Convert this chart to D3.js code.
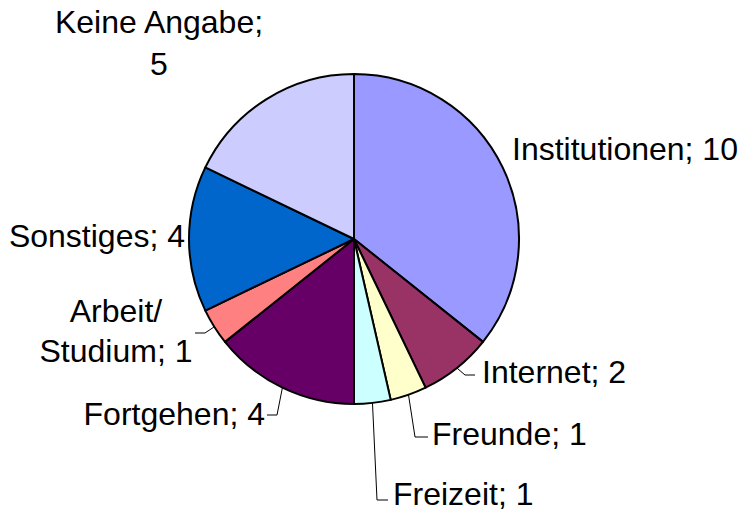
<!DOCTYPE html>
<html>
<head>
<meta charset="utf-8">
<script src="https://cdn.jsdelivr.net/npm/d3@7"></script>
<style>
  html, body { margin: 0; padding: 0; background: #fff; }
  svg { display: block; }
  .pie-label { font-family: "Liberation Sans", Arial, sans-serif; font-size: 32px; fill: #000; }
</style>
</head>
<body>
<svg id="chart" width="740" height="511"></svg>
<script>
// data
var categories = ['Institutionen', 'Internet', 'Freunde', 'Freizeit', 'Fortgehen', 'Arbeit/Studium', 'Sonstiges', 'Keine Angabe'];
var values = [10, 2, 1, 1, 4, 1, 4, 5];
var colors = ['#9999FF', '#993366', '#FFFFCC', '#CCFFFF', '#660066', '#FF8080', '#0066CC', '#CCCCFF'];

// label placement (Excel-style, hand positioned)
var labelLayout = {
  'Institutionen': { x: 512, y: 160, anchor: 'start' },
  'Internet': { x: 482, y: 383, anchor: 'start', elbow: [465, 375], end: [475, 375] },
  'Freunde': { x: 432, y: 445, anchor: 'start', elbow: [415, 437], end: [428, 437] },
  'Freizeit': { x: 393, y: 505, anchor: 'start', elbow: [377, 500], end: [388, 500] },
  'Fortgehen': { x: 265, y: 425, anchor: 'end', elbow: [277, 415], end: [267, 415] },
  'Arbeit/Studium': { x: 116, y: 322, anchor: 'middle', lines: ['Arbeit/', 'Studium;'], gap: 40, elbow: [205, 333], end: [195, 333] },
  'Sonstiges': { x: 185, y: 247, anchor: 'end' },
  'Keine Angabe': { x: 159, y: 33, anchor: 'middle', lines: ['Keine Angabe;', ''], gap: 42 }
};

var cx = 354, cy = 239, radius = 165;

var svg = d3.select('#chart');
var g = svg.append('g').attr('transform', 'translate(' + cx + ',' + cy + ')');

var rows = categories.map(function (c, i) {
  return { name: c, value: values[i], color: colors[i] };
});

var pie = d3.pie().sort(null).value(function (d) { return d.value; });
var arc = d3.arc().innerRadius(0).outerRadius(radius);
var arcs = pie(rows);

g.selectAll('path.slice')
  .data(arcs)
  .enter().append('path')
  .attr('class', 'slice')
  .attr('d', arc)
  .attr('fill', function (d) { return d.data.color; })
  .attr('stroke', '#000')
  .attr('stroke-width', 2)
  .attr('stroke-linejoin', 'round');

// leader lines
arcs.forEach(function (d) {
  var lay = labelLayout[d.data.name];
  if (!lay.elbow) return;
  var mid = (d.startAngle + d.endAngle) / 2;
  var ex = cx + radius * Math.sin(mid);
  var ey = cy - radius * Math.cos(mid);
  svg.append('path')
    .attr('d', d3.line()([[ex, ey], lay.elbow, lay.end]))
    .attr('fill', 'none')
    .attr('stroke', '#000')
    .attr('stroke-width', 1);
});

// labels
arcs.forEach(function (d) {
  var lay = labelLayout[d.data.name];
  var lines;
  if (lay.lines) {
    lines = lay.lines.slice();
    lines[lines.length - 1] = (lines[lines.length - 1] + ' ' + d.data.value).trim();
  } else {
    lines = [d.data.name + '; ' + d.data.value];
  }
  var t = svg.append('text')
    .attr('class', 'pie-label')
    .attr('text-anchor', lay.anchor)
    .attr('x', lay.x)
    .attr('y', lay.y);
  lines.forEach(function (ln, i) {
    t.append('tspan')
      .attr('x', lay.x)
      .attr('y', lay.y + i * (lay.gap || 0))
      .text(ln);
  });
});
</script>
</body>
</html>
